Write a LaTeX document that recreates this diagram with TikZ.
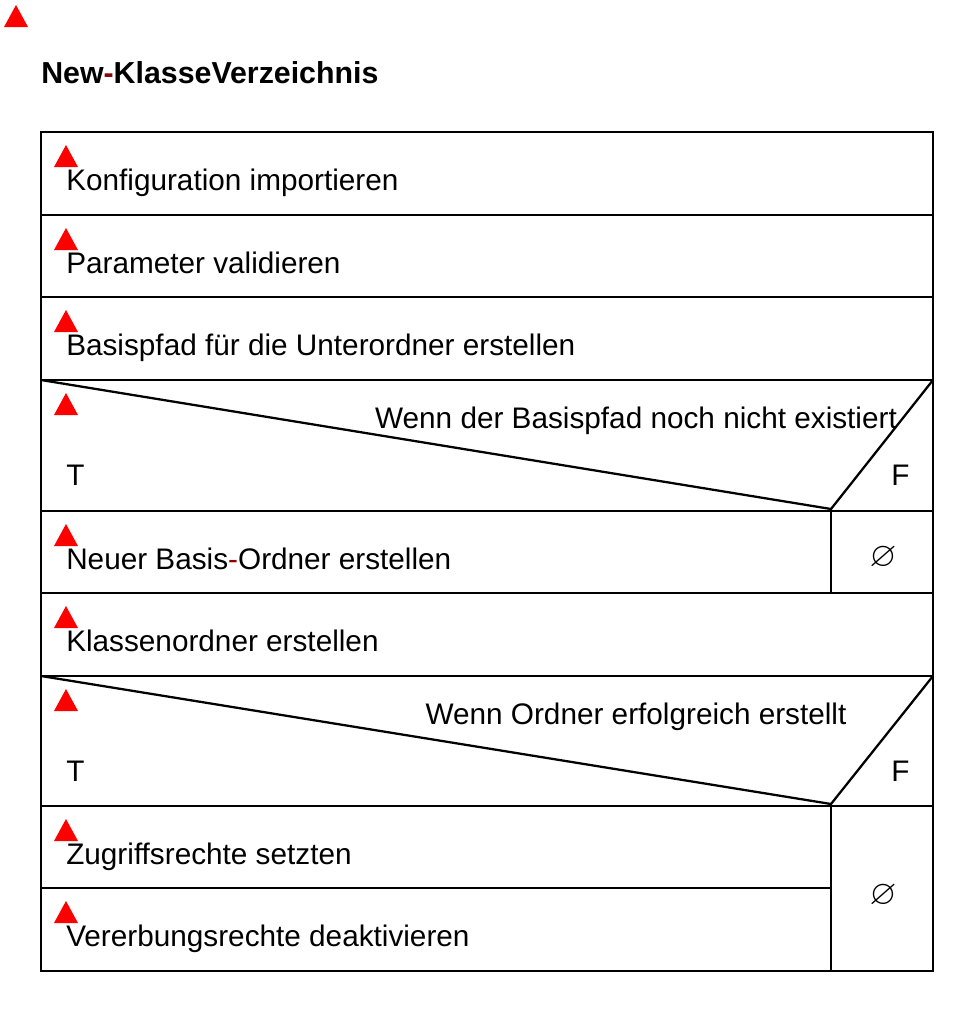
\documentclass[tikz,border=0pt]{standalone}
\usepackage{amssymb}
\usepackage{fontspec}
\setmainfont{Liberation Sans}
\definecolor{warnred}{HTML}{FF0000}
\definecolor{dashred}{HTML}{8B0000}
\newcommand{\warnmark}[2]{\fill[warnred] (#1, #2) ++(-12, 22) -- ++(24, 0) -- ++(-12, -22) -- cycle;}
\newcommand{\reddash}{\textcolor{dashred}{-}}
\tikzset{
  x=0.75pt, y=-0.75pt,
  line/.style={line width=1.7pt, black},
  label/.style={anchor=base west, inner sep=0pt, font=\fontsize{22.3}{26}\selectfont},
  title/.style={anchor=base west, inner sep=0pt, font=\fontsize{22.75}{26}\selectfont\bfseries},
  cond/.style={anchor=base, inner sep=0pt, font=\fontsize{22.3}{26}\selectfont},
  empty/.style={anchor=center, inner sep=0pt, font=\fontsize{26}{30}\selectfont}
}
\begin{document}
\begin{tikzpicture}
\useasboundingbox (0, 0) rectangle (977, 1010);
\warnmark{16}{5}
\node[title] (title) at (41, 83) {New\reddash KlasseVerzeichnis};
% frame and rows
\draw[line] (41, 132) rectangle (933, 971);
\draw[line] (41, 215) -- (933, 215);
\draw[line] (41, 297) -- (933, 297);
\draw[line] (41, 380) -- (933, 380);
\draw[line] (41, 511) -- (933, 511);
\draw[line] (41, 593) -- (933, 593);
\draw[line] (41, 676) -- (933, 676);
\draw[line] (41, 806) -- (933, 806);
\draw[line] (41, 888) -- (831, 888);
% branches
\draw[line] (831, 511) -- (831, 593);
\draw[line] (831, 806) -- (831, 971);
\draw[line] (41, 380) -- (831, 509) -- (933, 380);
\draw[line] (41, 676) -- (831, 804) -- (933, 676);
% marks
\warnmark{66}{145}
\warnmark{66}{228}
\warnmark{66}{310}
\warnmark{66}{393}
\warnmark{66}{524}
\warnmark{66}{606}
\warnmark{66}{689}
\warnmark{66}{819}
\warnmark{66}{901}
% texts
\node[label] (config) at (66, 190) {Konfiguration importieren};
\node[label] (params) at (66, 273) {Parameter validieren};
\node[label] (basepath) at (66, 355) {Basispfad für die Unterordner erstellen};
\node[cond] (ifbase) at (636, 428) {Wenn der Basispfad noch nicht existiert};
\node[label] (tbase) at (66, 485) {T};
\node[label] (fbase) at (891, 485) {F};
\node[label] (newbase) at (66, 569) {Neuer Basis\reddash Ordner erstellen};
\node[empty] (nobase) at (883, 558) {$\varnothing$};
\node[label] (classdir) at (66, 651) {Klassenordner erstellen};
\node[cond] (ifdir) at (636, 724) {Wenn Ordner erfolgreich erstellt};
\node[label] (tdir) at (66, 781) {T};
\node[label] (fdir) at (891, 781) {F};
\node[label] (rights) at (66, 864) {Zugriffsrechte setzten};
\node[label] (inherit) at (66, 946) {Vererbungsrechte deaktivieren};
\node[empty] (nodir) at (883, 896) {$\varnothing$};
\end{tikzpicture}
\end{document}
